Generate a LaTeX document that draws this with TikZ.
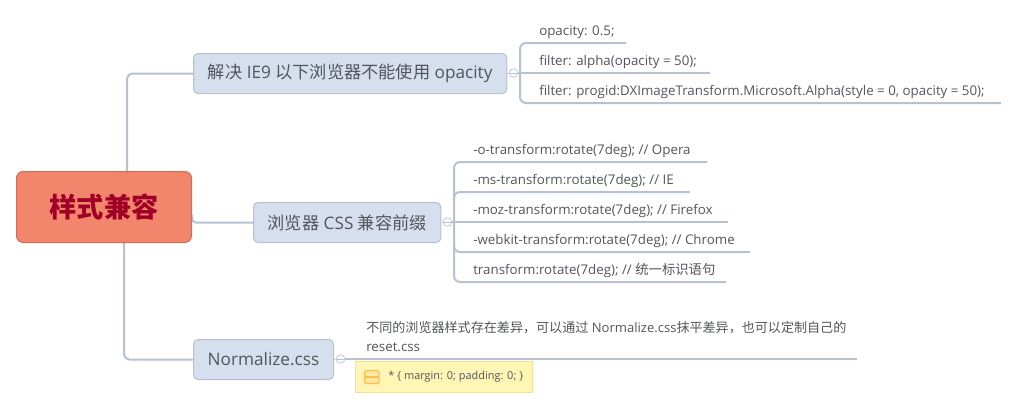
\documentclass[tikz,border=0pt]{standalone}
\usepackage{fontspec}
\setmainfont{Open Sans}
\newfontfamily\cjk{Noto Sans CJK SC}
\newcommand{\cj}[1]{{\cjk #1}}
\definecolor{linecol}{HTML}{B7C1D1}
\definecolor{topicfill}{HTML}{D5DFEE}
\definecolor{topicline}{HTML}{B5C0D2}
\definecolor{txt}{HTML}{53555C}
\definecolor{CFill}{HTML}{F2866C}
\definecolor{CBorder}{HTML}{D26A58}
\definecolor{CText}{HTML}{A00025}
\definecolor{NoteE}{HTML}{F5E08C}
\definecolor{NoteF}{HTML}{FFF5B5}
\definecolor{IconE}{HTML}{FBC04E}
\definecolor{IconF}{HTML}{FFE7A6}
\tikzset{
  conn/.style={draw=linecol,line width=1.5pt,rounded corners=4.5pt},
  topic/.style={draw=topicline,fill=topicfill,rounded corners=3.5pt,line width=0.75pt,inner sep=0pt,anchor=north west,text=txt,font=\fontsize{12.9}{15}\selectfont,align=center},
  central/.style={draw=CBorder,fill=CFill,rounded corners=5pt,line width=0.75pt,inner sep=0pt,anchor=north west,text=CText,align=center},
  leaf/.style={anchor=base west,inner sep=0pt,text=txt,font=\fontsize{10}{12}\selectfont},
  collapse/.style={circle,draw=linecol,fill=white,minimum size=6.5pt,inner sep=0pt,line width=0.5pt},
  minus/.style={draw=linecol,line width=0.5pt},
}
\begin{document}
\begin{tikzpicture}[x=0.75pt,y=-0.75pt]
\useasboundingbox (0,0) rectangle (1018,408);
% connectors from the central topic
\coordinate (c1) at (127,171);
\coordinate (c2) at (192,215);
\coordinate (c3) at (124,242);
\node[topic,minimum width=235pt,minimum height=30pt] (t1) at (193,53) {\cj{解决} IE9 \cj{以下浏览器不能使用} opacity};
\node[topic,minimum width=140.5pt,minimum height=30pt] (t2) at (253,202) {\cj{浏览器} CSS \cj{兼容前缀}};
\node[topic,minimum width=105pt,minimum height=30pt] (t3) at (193,339) {Normalize.css};
\draw[conn] (c1) |- (t1.west);
\draw[conn,rounded corners=3pt] (c2) |- (t2.west);
\draw[conn] (c3) |- (t3.west);
\node[central,minimum width=131.25pt,minimum height=53.25pt,font=\cjk\bfseries\fontsize{20.4}{24}\selectfont] (c) at (16,171) {样式兼容};
% branch 1
\node[leaf] (l11) at (539,35) {opacity: 0.5;};
\node[leaf] (l12) at (539,65) {filter: alpha(opacity = 50);};
\node[leaf] (l13) at (539,95) {filter: progid:DXImageTransform.Microsoft.Alpha(style = 0, opacity = 50);};
\coordinate (e11) at (626,43);
\coordinate (e12) at (710,73);
\coordinate (e13) at (1001,103);
\draw[conn] (e11) -- (520,43) -- (520,103) -- (e13);
\node[collapse] (k1) at (513.5,73) {};
\draw[minus] (k1.west)++(1.5,0) -- ++(7,0);
\draw[draw=topicline,line width=0.5pt] (t1.east) -- (k1.west);
\draw[conn] (k1.east) -- (e12);
% branch 2
\node[leaf] (l21) at (473,154) {-o-transform:rotate(7deg); // Opera};
\node[leaf] (l22) at (473,184) {-ms-transform:rotate(7deg); // IE};
\node[leaf] (l23) at (473,214) {-moz-transform:rotate(7deg); // Firefox};
\node[leaf] (l24) at (473,244) {-webkit-transform:rotate(7deg); // Chrome};
\node[leaf] (l25) at (473,274) {transform:rotate(7deg); // \cj{统一标识语句}};
\coordinate (e21) at (707,162);
\coordinate (e22) at (690,192);
\coordinate (e23) at (728,222);
\coordinate (e24) at (750,252);
\coordinate (e25) at (726,282);
\draw[conn] (e21) -- (454,162) -- (454,282) -- (e25);
\draw[conn] (454,197) -- (454,192) -- (e22);
\node[collapse] (k2) at (447.5,222) {};
\draw[minus] (k2.west)++(1.5,0) -- ++(7,0);
\draw[draw=topicline,line width=0.5pt] (t2.east) -- (k2.west);
\draw[conn] (k2.east) -- (e23);
\draw[conn] (454,247) -- (454,252) -- (e24);
% branch 3
\coordinate (e31) at (857,359);
\node[collapse] (k3) at (340.5,359) {};
\draw[minus] (k3.west)++(1.5,0) -- ++(7,0);
\draw[draw=topicline,line width=0.5pt] (t3.east) -- (k3.west);
\draw[conn] (k3.east) -- (e31);
\node[leaf,font=\fontsize{9.8}{12}\selectfont] (l31) at (366,332.5) {\cj{不同的浏览器样式存在差异，可以通过} Normalize.css\cj{抹平差异，也可以定制自己的}};
\node[leaf] (l32) at (366,351) {reset.css};
% note
\node[draw=NoteE,fill=NoteF,line width=0.75pt,anchor=north west,minimum width=132.5pt,minimum height=23.25pt,inner sep=0pt] (n) at (355,360.5) {};
\node[anchor=base west,inner sep=0pt,text=txt,font=\fontsize{8.2}{10}\selectfont] (nt) at (388,379) {* \{ margin: 0; padding: 0; \}};
\draw[draw=IconE,fill=IconF,rounded corners=1.5pt,line width=0.9pt] (364.5,370.5) rectangle (379,383.5);
\draw[draw=IconE,line width=0.9pt] (364.5,377) -- (379,377);
\end{tikzpicture}
\end{document}
